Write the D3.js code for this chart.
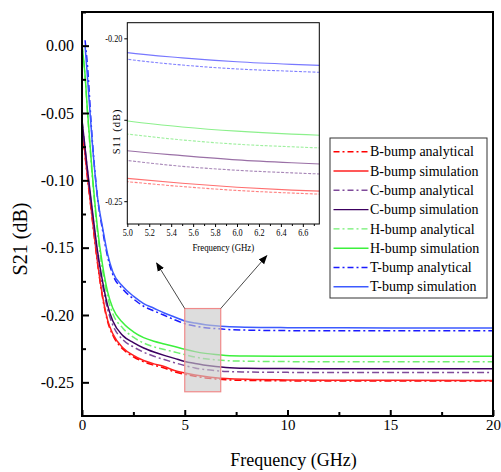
<!DOCTYPE html>
<html><head><meta charset="utf-8">
<script src="https://cdn.jsdelivr.net/npm/d3@7"></script>
<style>
html,body{margin:0;padding:0;background:#fff;}
svg{display:block;}
svg text{font-family:"Liberation Serif","Times New Roman",serif !important;}
</style></head>
<body><svg id="c" width="501" height="472"></svg>
<script>
// ---------------- data ----------------
const freq = [0, 0.15, 0.25, 0.5, 0.75, 1, 1.25, 1.5, 2, 2.5, 3, 3.5, 4, 4.5, 5, 5.5, 6, 6.5, 7, 8, 10, 12, 15, 20];
const bAnalytical = [-0.061,-0.082,-0.096,-0.129,-0.161,-0.187,-0.205,-0.215,-0.2255,-0.2310,-0.2348,-0.2373,-0.2393,-0.2422,-0.2440,-0.2455,-0.2467,-0.2475,-0.2481,-0.2486,-0.2489,-0.2490,-0.2490,-0.2490];
const bSimulation = [-0.060,-0.081,-0.095,-0.128,-0.160,-0.186,-0.204,-0.214,-0.2245,-0.2300,-0.2338,-0.2363,-0.2383,-0.2412,-0.2430,-0.2445,-0.2457,-0.2466,-0.2472,-0.2478,-0.2482,-0.2484,-0.2485,-0.2486];
const cAnalytical = [-0.056,-0.077,-0.091,-0.124,-0.155,-0.178,-0.196,-0.2075,-0.2185,-0.2237,-0.2276,-0.2306,-0.2331,-0.2354,-0.2375,-0.2393,-0.2405,-0.2413,-0.2419,-0.2423,-0.2426,-0.2427,-0.2427,-0.2427];
const cSimulation = [-0.055,-0.076,-0.090,-0.122,-0.152,-0.175,-0.193,-0.2045,-0.2155,-0.2205,-0.2245,-0.2275,-0.2300,-0.2322,-0.2345,-0.2360,-0.2373,-0.2382,-0.2389,-0.2395,-0.2398,-0.2399,-0.2400,-0.2400];
const hAnalytical = [0.000,-0.023,-0.046,-0.097,-0.138,-0.167,-0.187,-0.199,-0.210,-0.2165,-0.2208,-0.2236,-0.2256,-0.2275,-0.2294,-0.2312,-0.2325,-0.2333,-0.2339,-0.2343,-0.2346,-0.2347,-0.2347,-0.2347];
const hSimulation = [0.000,-0.022,-0.045,-0.095,-0.135,-0.163,-0.183,-0.195,-0.206,-0.2125,-0.2168,-0.2195,-0.2215,-0.2234,-0.2254,-0.2272,-0.2285,-0.2294,-0.2300,-0.2304,-0.2306,-0.2307,-0.2307,-0.2307];
const tAnalytical = [null,0.004,-0.012,-0.070,-0.112,-0.137,-0.157,-0.170,-0.181,-0.188,-0.1935,-0.1970,-0.2002,-0.2035,-0.2064,-0.2082,-0.2094,-0.2101,-0.2107,-0.2112,-0.2116,-0.2117,-0.2117,-0.2117];
const tSimulation = [null,0.000,-0.020,-0.072,-0.112,-0.135,-0.155,-0.168,-0.179,-0.186,-0.1915,-0.1950,-0.1985,-0.2015,-0.2044,-0.2060,-0.2072,-0.2080,-0.2086,-0.2091,-0.2094,-0.2095,-0.2096,-0.2096];

const seriesNames = ["B-bump analytical","B-bump simulation","C-bump analytical","C-bump simulation","H-bump analytical","H-bump simulation","T-bump analytical","T-bump simulation"];
const seriesValues = [bAnalytical,bSimulation,cAnalytical,cSimulation,hAnalytical,hSimulation,tAnalytical,tSimulation];
const seriesColors = ["#ff0000","#ff2020","#7f4a9a","#3c0060","#70f070","#3cf03c","#1a1aff","#3c5aff"];
const seriesInsetColors = ["#ff8080","#ff7070","#a888b8","#9a70a6","#a0f0a0","#8cf08c","#8080ff","#7878ff"];
const seriesDashed = [true,false,true,false,true,false,true,false];

const xTicks = [0,5,10,15,20];
const xMinor = [2.5,7.5,12.5,17.5];
const yTicks = [0,-0.05,-0.10,-0.15,-0.20,-0.25];
const yMinor = [0.025,-0.025,-0.075,-0.125,-0.175,-0.225];

const zoomX = [5, 6.75];
const zoomY = [-0.257, -0.1952];
const insetXTicks = [5.0,5.2,5.4,5.6,5.8,6.0,6.2,6.4,6.6];
const insetXMinor = [5.1,5.3,5.5,5.7,5.9,6.1,6.3,6.5,6.7];
const insetYTicks = [-0.20,-0.225,-0.25];
const insetYLabels = ["-0.20","","-0.25"];
const arrowTips = [[3.63,-0.1614],[8.99,-0.156]];

// ---------------- layout ----------------
const svg = d3.select("#c");
const M = {l:82, r:493, t:12, b:416};
const x = d3.scaleLinear().domain([0,20]).range([M.l, M.r]);
const y = d3.scaleLinear().domain([-0.275,0.025]).range([M.b, M.t]);

svg.append("defs").append("clipPath").attr("id","mainclip")
  .append("rect").attr("x",M.l).attr("y",M.t).attr("width",M.r-M.l).attr("height",M.b-M.t);

const pts = vals => freq.map((f,i)=>[f, vals[i]]);
const lineMain = d3.line().defined(d=>d[1]!==null).x(d=>x(d[0])).y(d=>y(d[1])).curve(d3.curveMonotoneX);

const gLines = svg.append("g").attr("clip-path","url(#mainclip)");
seriesValues.forEach((vals,i)=>{
  gLines.append("path").datum(pts(vals))
    .attr("d", lineMain).attr("fill","none")
    .attr("stroke", seriesColors[i]).attr("stroke-width", 1.5)
    .attr("stroke-dasharray", seriesDashed[i] ? "7,3,2,3" : null);
});

// zoom rectangle
svg.append("rect")
  .attr("x", x(zoomX[0])).attr("y", y(zoomY[1]))
  .attr("width", x(zoomX[1])-x(zoomX[0])).attr("height", y(zoomY[0])-y(zoomY[1]))
  .attr("fill","#c8c8c8").attr("fill-opacity",0.62)
  .attr("stroke","#f08a8a").attr("stroke-width",1.2);

// arrows
svg.select("defs").append("marker").attr("id","ah").attr("viewBox","0 0 10 10")
  .attr("refX",9).attr("refY",5).attr("markerWidth",9).attr("markerHeight",9)
  .attr("markerUnits","userSpaceOnUse").attr("orient","auto")
  .append("path").attr("d","M0,1L10,5L0,9Z").attr("fill","#000");
const corners = [[zoomX[0],zoomY[1]],[zoomX[1],zoomY[1]]];
arrowTips.forEach((t,i)=>{
  svg.append("line")
    .attr("x1", x(corners[i][0])).attr("y1", y(corners[i][1]))
    .attr("x2", x(t[0])).attr("y2", y(t[1]))
    .attr("stroke","#333").attr("stroke-width",0.9).attr("marker-end","url(#ah)");
});

// main axes
const yAxis = svg.append("g").attr("transform",`translate(${M.l},0)`)
  .call(d3.axisLeft(y).tickValues(yTicks).tickSize(-7).tickPadding(8).tickFormat(d=>d.toFixed(2)));
const yAxisMinor = svg.append("g").attr("transform",`translate(${M.l},0)`)
  .call(d3.axisLeft(y).tickValues(yMinor).tickSize(-4).tickFormat(""));
const xAxis = svg.append("g").attr("transform",`translate(0,${M.b})`)
  .call(d3.axisBottom(x).tickValues(xTicks).tickSize(-6).tickPadding(3).tickFormat(d3.format("d")));
const xAxisMinor = svg.append("g").attr("transform",`translate(0,${M.b})`)
  .call(d3.axisBottom(x).tickValues(xMinor).tickSize(-4).tickFormat(""));
[yAxis,yAxisMinor,xAxis,xAxisMinor].forEach(g=>{
  g.attr("font-family", null);
  g.select(".domain").remove();
  g.selectAll(".tick line").attr("stroke","#000").attr("stroke-width",2);
});
yAxis.selectAll("text").attr("font-size",16).attr("fill","#000");
xAxis.selectAll("text").attr("font-size",15).attr("fill","#000");

svg.append("rect").attr("x",M.l).attr("y",M.t).attr("width",M.r-M.l).attr("height",M.b-M.t)
  .attr("fill","none").attr("stroke","#000").attr("stroke-width",2);

svg.append("text").attr("x",(M.l+M.r)/2+6).attr("y",466).attr("text-anchor","middle")
  .attr("font-size",18).text("Frequency (GHz)");
svg.append("text").attr("transform","translate(27,239) rotate(-90)").attr("text-anchor","middle")
  .attr("font-size",20).text("S21 (dB)");

// ---------------- inset ----------------
const I = {l:127.3, r:319.3, t:22.7, b:224};
const xi = d3.scaleLinear().domain(zoomX).range([I.l, I.r]);
const yi = d3.scaleLinear().domain(zoomY).range([I.b, I.t]);
svg.select("defs").append("clipPath").attr("id","insetclip")
  .append("rect").attr("x",I.l).attr("y",I.t).attr("width",I.r-I.l).attr("height",I.b-I.t);
svg.append("rect").attr("x",I.l).attr("y",I.t).attr("width",I.r-I.l).attr("height",I.b-I.t).attr("fill","#fff");
const lineInset = d3.line().defined(d=>d[1]!==null).x(d=>xi(d[0])).y(d=>yi(d[1])).curve(d3.curveMonotoneX);
const gIn = svg.append("g").attr("clip-path","url(#insetclip)");
seriesValues.forEach((vals,i)=>{
  gIn.append("path").datum(pts(vals))
    .attr("d", lineInset).attr("fill","none")
    .attr("stroke", seriesInsetColors[i]).attr("stroke-width", 1.1)
    .attr("stroke-dasharray", seriesDashed[i] ? "3,1.5" : null);
});
svg.append("rect").attr("x",I.l).attr("y",I.t).attr("width",I.r-I.l).attr("height",I.b-I.t)
  .attr("fill","none").attr("stroke","#000").attr("stroke-width",1);

const iy = svg.append("g").attr("transform",`translate(${I.l},0)`)
  .call(d3.axisLeft(yi).tickValues(insetYTicks).tickSize(3).tickPadding(2).tickFormat((d,k)=>insetYLabels[k]));
const ix = svg.append("g").attr("transform",`translate(0,${I.b})`)
  .call(d3.axisBottom(xi).tickValues(insetXTicks).tickSize(3).tickPadding(2).tickFormat(d=>d.toFixed(1)));
const ixm = svg.append("g").attr("transform",`translate(0,${I.b})`)
  .call(d3.axisBottom(xi).tickValues(insetXMinor).tickSize(2).tickFormat(""));
[iy,ix,ixm].forEach(g=>{
  g.attr("font-family", null);
  g.select(".domain").remove();
  g.selectAll(".tick line").attr("stroke","#000").attr("stroke-width",1);
  g.selectAll("text").attr("font-size",10.5).attr("fill","#000");
});
iy.selectAll("text").each(function(){
  const t = d3.select(this); const xx = +t.attr("x");
  t.attr("x", xx/0.78).attr("transform","scale(0.78,1)");
});
ix.selectAll("text").attr("transform","scale(0.78,1)");
svg.append("text").attr("transform",`translate(${(I.l+I.r)/2},${I.b+27}) scale(0.8,1)`).attr("text-anchor","middle")
  .attr("font-size",11).text("Frequency (GHz)");
svg.append("text").attr("transform",`translate(120,${(I.t+I.b)/2+8}) rotate(-90)`).attr("text-anchor","middle")
  .attr("font-size",10.5).attr("letter-spacing",1).text("S11 (dB)");

// ---------------- legend ----------------
const L = {x:330, y:138, w:157, h:160};
svg.append("rect").attr("x",L.x).attr("y",L.y).attr("width",L.w).attr("height",L.h)
  .attr("fill","#fff").attr("stroke","#333").attr("stroke-width",1);
seriesNames.forEach((name,i)=>{
  const yy = L.y + 13.7 + i*19.3;
  svg.append("line").attr("x1",L.x+3.5).attr("x2",L.x+38.5).attr("y1",yy).attr("y2",yy)
    .attr("stroke",seriesColors[i]).attr("stroke-width",1.4)
    .attr("stroke-dasharray", seriesDashed[i] ? "6,3,2,3" : null);
  svg.append("text").attr("x",L.x+40).attr("y",yy).attr("dy","0.33em")
    .attr("font-size",14).attr("fill","#000").text(name);
});
</script></body></html>
